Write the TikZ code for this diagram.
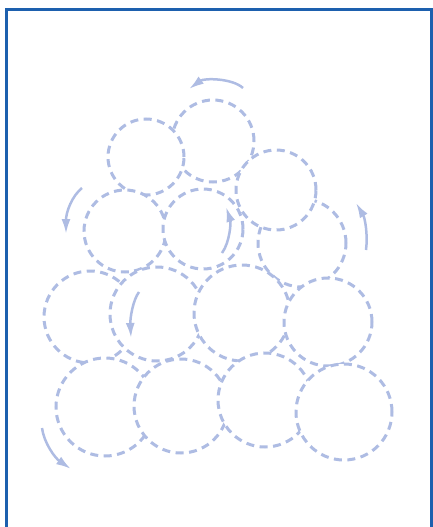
\documentclass[tikz,border=0pt]{standalone}
\usetikzlibrary{arrows.meta}
\definecolor{cellc}{HTML}{AEBCE3}
\definecolor{framec}{HTML}{1D60AE}
\begin{document}
\begin{tikzpicture}[x=1pt,y=-1pt,
  cell/.style={circle, draw=cellc, fill=white, line width=3pt, dash pattern=on 8pt off 5.5pt, inner sep=0pt, outer sep=0pt},
  rot/.style={draw=cellc, line width=2.5pt, -{Latex[length=15pt,width=9pt]}}]
\useasboundingbox (0,0) rectangle (433,527);
\clip (0,0) rectangle (433,527);
\draw[framec, line width=3pt] (6,10) rectangle (431,560);
% cells (later ones lie on top)
\node[cell, minimum size=82pt] (A) at (213,141) {};
\node[cell, minimum size=88pt] (F) at (302,243) {};
\node[cell, minimum size=80pt] (C) at (276,190) {};
\node[cell, minimum size=76pt] (B) at (146,157) {};
\node[cell, minimum size=82pt] (D) at (125,231) {};
\node[cell, minimum size=80pt] (E) at (203,229) {};
\node[cell, minimum size=92pt] (G) at (90,317) {};
\node[cell, minimum size=94pt] (H) at (157,314) {};
\node[cell, minimum size=96pt] (I) at (242,313) {};
\node[cell, minimum size=88pt] (J) at (328,322) {};
\node[cell, minimum size=98pt] (K) at (105,407) {};
\node[cell, minimum size=94pt] (L) at (181,406) {};
\node[cell, minimum size=94pt] (M) at (265,400) {};
\node[cell, minimum size=96pt] (N) at (344,412) {};
% rotation arrows
\coordinate (t1) at (243,88);  \coordinate (t2) at (189,89);
\coordinate (l1) at (82,188);  \coordinate (l2) at (66,234);
\coordinate (r1) at (366,250); \coordinate (r2) at (356,203);
\coordinate (e1) at (222,253); \coordinate (e2) at (226,207);
\coordinate (h1) at (139,292); \coordinate (h2) at (131,338);
\coordinate (b1) at (42,428);  \coordinate (b2) at (71,469);
\draw[rot] (t1) .. controls (232,78) and (204,78) .. (t2);
\draw[rot] (l1) .. controls (72,196) and (66,212) .. (l2);
\draw[rot] (r1) .. controls (368,235) and (365,218) .. (r2);
\draw[rot] (e1) .. controls (230,242) and (231,222) .. (e2);
\draw[rot] (h1) .. controls (133,300) and (130,318) .. (h2);
\draw[rot] (b1) .. controls (44,443) and (55,458) .. (b2);
\end{tikzpicture}
\end{document}
